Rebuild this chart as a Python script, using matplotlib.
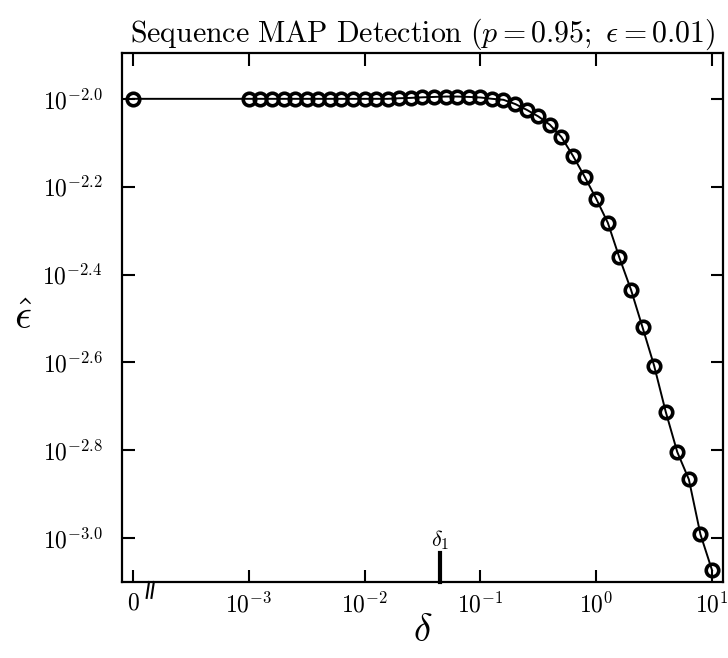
import matplotlib
matplotlib.use("Agg")
from matplotlib import pyplot as plt
import matplotlib.ticker as mticker

plt.rcParams['mathtext.fontset'] = 'cm'
plt.rcParams['font.family'] = 'serif'
plt.rcParams['font.serif'] = ['DejaVu Serif']

# delta = 0 is drawn at the 1e-4 position and labelled "0"
zero_pos = 1e-4
eps_zero = 0.0100

delta = [1.00e-3, 1.26e-3, 1.58e-3, 2.00e-3, 2.51e-3, 3.16e-3, 3.98e-3, 5.01e-3,
         6.31e-3, 7.94e-3, 1.00e-2, 1.26e-2, 1.58e-2, 2.00e-2, 2.51e-2, 3.16e-2,
         3.98e-2, 5.01e-2, 6.31e-2, 7.94e-2, 1.00e-1, 1.26e-1, 1.58e-1, 2.00e-1,
         2.51e-1, 3.16e-1, 3.98e-1, 5.01e-1, 6.31e-1, 7.94e-1, 1.00, 1.26,
         1.58, 2.00, 2.51, 3.16, 3.98, 5.01, 6.31, 7.94, 10.0]
eps_hat = [0.01000, 0.01000, 0.01000, 0.01000, 0.01000, 0.01000, 0.01000, 0.01000,
           0.01000, 0.01000, 0.01000, 0.01000, 0.01000, 0.01003, 0.01005, 0.01008,
           0.01010, 0.01012, 0.01012, 0.01010, 0.01007, 0.01000, 0.00995, 0.00973,
           0.00944, 0.00912, 0.00873, 0.00818, 0.00741, 0.00665, 0.00592, 0.00522,
           0.00436, 0.00367, 0.00302, 0.00247, 0.00194, 0.00157, 0.00136, 0.00102,
           0.000845]

delta_1 = 0.045

xticks = [1e-4, 1e-3, 1e-2, 1e-1, 1e0, 1e1]
xticklabels = [r'$\mathbf{0}$', r'$\mathbf{10^{-3}}$', r'$\mathbf{10^{-2}}$',
               r'$\mathbf{10^{-1}}$', r'$\mathbf{10^{0}}$', r'$\mathbf{10^{1}}$']
ylog = [-2.0, -2.2, -2.4, -2.6, -2.8, -3.0]

fig = plt.figure(figsize=(7.28, 6.58), dpi=100)
ax = fig.add_axes([0.1676, 0.1155, 0.8251, 0.8044])

ax.plot([zero_pos] + delta, [eps_zero] + eps_hat, color='black', lw=1.4,
        marker='o', markersize=9, markerfacecolor='none',
        markeredgecolor='black', markeredgewidth=2.6)

ax.set_xscale('log')
ax.set_yscale('log')
ax.set_xlim(10 ** -4.095, 10 ** 1.092)
ax.set_ylim(10 ** -3.10, 10 ** -1.895)

ax.xaxis.set_major_locator(mticker.FixedLocator(xticks))
ax.xaxis.set_minor_locator(mticker.NullLocator())
ax.set_xticklabels(xticklabels)
ax.yaxis.set_major_locator(mticker.FixedLocator([10 ** v for v in ylog]))
ax.yaxis.set_minor_locator(mticker.NullLocator())
ax.set_yticklabels([r'$\mathbf{10^{%.1f}}$' % v for v in ylog])

ax.tick_params(direction='in', length=9, width=1.5, top=True, right=True,
               labelsize=17, pad=14)
ax.tick_params(axis='x', pad=7)
for s in ax.spines.values():
    s.set_linewidth(1.6)

# delta_1 marker on the bottom axis
ax.plot([delta_1, delta_1], [0, 0.055], color='black', lw=3,
        transform=ax.get_xaxis_transform(), clip_on=False)
ax.text(delta_1, 0.08, r'$\delta_1$', transform=ax.get_xaxis_transform(),
        ha='center', va='center', fontsize=16)

# axis break marks next to the zero
for dx in (-0.004, 0.004):
    ax.plot([0.047 + dx - 0.002, 0.047 + dx + 0.002], [-0.03, 0.0],
            transform=ax.transAxes, color='black', lw=1.5, clip_on=False)

ax.set_title(r'$\mathrm{Sequence\ MAP\ Detection\ (}p{=}\mathrm{0.95;\ }\epsilon{=}\mathrm{0.01)}$',
             fontsize=21.5, pad=8)
ax.set_xlabel(r'$\delta$', fontsize=28, labelpad=-4)
ax.set_ylabel(r'$\hat{\epsilon}$', fontsize=30, rotation=0, labelpad=14, va='center')

fig.savefig('out.png', dpi=100)
